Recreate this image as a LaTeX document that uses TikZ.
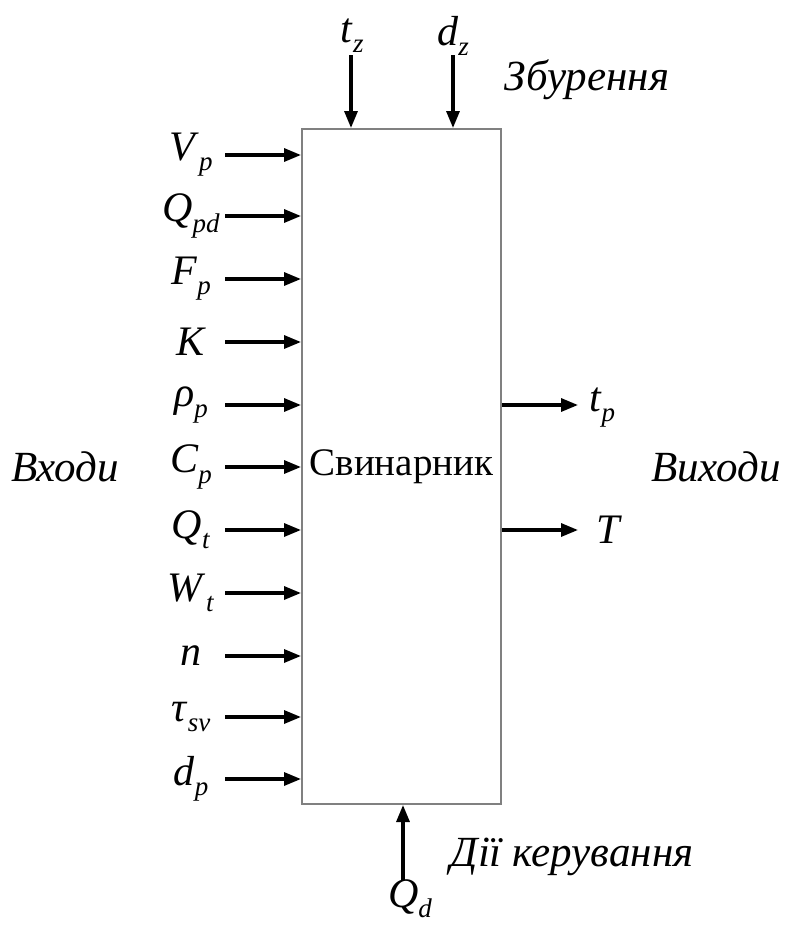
\documentclass[tikz,border=0pt]{standalone}
\usepackage{fontspec}
\setmainfont{Liberation Serif}
\usetikzlibrary{arrows.meta}
\newcommand{\lab}[2]{\textit{#1}\raisebox{-0.24em}{\fontsize{27}{27}\selectfont\textit{#2}}}
\tikzset{
  arr/.style={line width=3.2pt,-{Triangle[length=17pt,width=13pt]}},
  lbl/.style={font=\fontsize{42}{44}\selectfont, inner sep=0pt, anchor=center},
  word/.style={font=\fontsize{43}{45}\selectfont\itshape, inner sep=0pt, anchor=center},
  blk/.style={draw=black!50, line width=2pt, minimum width=199pt, minimum height=675pt, inner sep=0pt, font=\fontsize{39}{41}\selectfont}
}
\begin{document}
\begin{tikzpicture}[x=1pt,y=-1pt]
\useasboundingbox (0,0) rectangle (800,927);
\node[blk] (box) at (401.5,466.5) {Свинарник};
% inputs
\foreach \i/\y/\t in {1/155/{\lab{V}{p}},2/216/{\lab{Q}{pd}},3/279/{\lab{F}{p}},4/342/{\textit{K}},5/405/{\lab{ρ}{p}},6/467/{\lab{C}{p}},7/530/{\lab{Q}{t}},8/593/{\lab{W}{t}},9/656/{\textit{n}},10/717/{\lab{τ}{sv}},11/779/{\lab{d}{p}}}{
  \node[lbl] (in\i) at (191,\y) {\t};
  \coordinate (s\i) at (225,\y);
  \draw[arr] (s\i) -- (s\i -| box.west);
}
% disturbances
\node[lbl] (tz) at (352,36) {\lab{t}{z}};
\node[lbl] (dz) at (453,36) {\lab{d}{z}};
\coordinate (tzs) at (351,55);
\coordinate (dzs) at (453,55);
\draw[arr] (tzs) -- (tzs |- box.north);
\draw[arr] (dzs) -- (dzs |- box.north);
\node[word] (zb) at (587,80) {Збурення};
% control
\coordinate (qds) at (403,880);
\draw[arr] (qds) -- (qds |- box.south);
\node[lbl] (qd) at (410,899) {\lab{Q}{d}};
\node[word] (dk) at (572,857) {Дії керування};
% outputs
\coordinate (o1) at (578,405);
\coordinate (o2) at (578,530);
\draw[arr] (o1 -| box.east) -- (o1);
\draw[arr] (o2 -| box.east) -- (o2);
\node[lbl] (tp) at (602,408) {\lab{t}{p}};
\node[lbl] (T) at (609,530) {\textit{T}};
% group words
\node[word] (vh) at (65,467) {Входи};
\node[word] (vyh) at (716,467) {Виходи};
\end{tikzpicture}
\end{document}
